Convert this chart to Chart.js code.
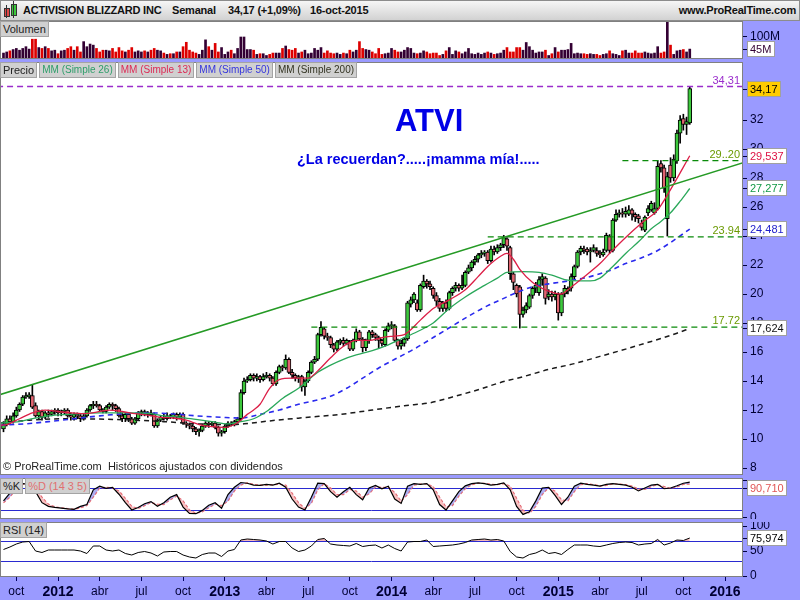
<!DOCTYPE html>
<html>
<head>
<meta charset="utf-8">
<script src="https://cdn.jsdelivr.net/npm/chart.js@4.4.1/dist/chart.umd.min.js"></script>
<style>
html,body{margin:0;padding:0}
body{width:800px;height:600px;position:relative;overflow:hidden;background:#9a9aff;font-family:"Liberation Sans",Arial,sans-serif;color:#111}
canvas{position:absolute;left:0}
#title{position:absolute;left:0;top:0;width:798px;height:19px;border:1px solid #8c8c8c;background:linear-gradient(#f6f6f6,#d2d2d2)}
.t{position:absolute;top:3px;font-size:11px;letter-spacing:-0.2px;font-weight:bold;white-space:nowrap;color:#111}
.row{position:absolute;left:0;display:flex;gap:2px}
.lb{height:14px;line-height:14px;font-size:10px;background:#d0d0d0;border:1px solid #a4a4a4;padding:0 2px;white-space:nowrap}
.free{position:absolute;white-space:nowrap}
</style>
</head>
<body>
<canvas id="cVol" width="800" height="38" style="top:21px"></canvas>
<canvas id="cPrice" width="800" height="413" style="top:62px"></canvas>
<canvas id="cStoch" width="800" height="41" style="top:478px"></canvas>
<canvas id="cRsi" width="800" height="78" style="top:522px"></canvas>

<div id="title">
  <div style="position:absolute;left:3px;top:7px;width:4px;height:7px;background:#e04848;border:1px solid #333"></div>
  <div style="position:absolute;left:4.5px;top:4px;width:1px;height:13px;background:#333"></div>
  <div style="position:absolute;left:10px;top:3px;width:4px;height:10px;background:#3cc83c;border:1px solid #333"></div>
  <div style="position:absolute;left:11.5px;top:0px;width:1px;height:17px;background:#333"></div>
  <span class="t" style="left:22px">ACTIVISION BLIZZARD INC</span>
  <span class="t" style="left:171px">Semanal</span>
  <span class="t" style="left:227px">34,17 (+1,09%)</span>
  <span class="t" style="left:309px">16-oct-2015</span>
  <span class="t" style="right:3px">www.ProRealTime.com</span>
</div>

<div class="row" style="top:21px"><div class="lb" style="color:#222;font-size:11px">Volumen</div></div>
<div class="row" style="top:62px">
  <div class="lb" style="color:#222;font-size:11px">Precio</div>
  <div class="lb" style="color:#2e9e6a">MM (Simple 26)</div>
  <div class="lb" style="color:#dd2a55">MM (Simple 13)</div>
  <div class="lb" style="color:#3434dd">MM (Simple 50)</div>
  <div class="lb" style="color:#333322">MM (Simple 200)</div>
</div>
<div class="row" style="top:478px">
  <div class="lb" style="color:#222;font-size:11px">%K</div>
  <div class="lb" style="color:#e07070;font-size:11px">%D (14 3 5)</div>
</div>
<div class="row" style="top:522px"><div class="lb" style="color:#222;font-size:11px">RSI (14)</div></div>

<div class="free" style="left:395px;top:103px;font-size:31px;font-weight:bold;color:#0000e6">ATVI</div>
<div class="free" style="left:297px;top:151px;font-size:14.5px;font-weight:bold;color:#0000e6">¿La recuerdan?.....¡mamma mía!.....</div>
<div class="free" style="left:3px;top:460px;font-size:11px;color:#222">© ProRealTime.com&nbsp; Históricos ajustados con dividendos</div>

<script>
// ---------------- DATA ----------------
const startDate = '2011-09-09'; // first weekly candle (Friday)

const opens = [
10.7,11.0,11.4,11.2,11.6,12.0,12.4,12.9,12.9,13.0,
12.3,11.6,11.9,11.5,11.8,11.7,11.9,12.0,11.8,11.9,
12.0,11.6,11.5,11.7,11.6,11.4,11.6,12.0,12.3,12.4,
12.3,12.0,11.9,12.2,12.4,12.3,12.1,11.6,11.4,11.7,
11.4,11.1,11.4,11.8,11.9,11.7,11.8,11.7,10.9,11.3,
11.5,11.4,11.6,11.5,11.7,11.5,11.7,11.1,11.0,10.9,
10.7,10.5,10.6,10.9,11.1,11.0,11.1,10.8,10.4,10.5,
10.9,11.1,11.0,11.2,11.4,13.2,14.0,14.1,14.4,14.2,
14.3,14.1,14.3,14.4,14.2,13.8,14.6,15.0,14.9,15.5,
14.6,14.4,14.2,14.3,13.6,14.0,14.6,15.3,15.5,17.2,
17.6,17.1,17.0,16.5,16.2,16.7,16.8,16.6,16.7,16.2,
16.8,17.4,16.9,16.3,16.8,17.4,17.2,17.0,16.8,16.5,
17.5,17.8,17.8,16.8,16.4,16.6,16.9,19.3,19.6,19.4,
18.9,20.5,20.9,20.7,20.4,19.9,19.5,19.0,19.4,19.0,
20.1,20.4,20.6,20.4,20.6,21.5,21.8,22.2,22.4,22.7,
22.8,22.9,22.3,23.1,22.9,23.2,23.4,23.8,23.2,21.4,
20.6,20.5,18.6,18.9,19.1,19.9,20.4,20.1,21.0,21.1,
19.8,20.0,19.8,20.0,18.7,20.0,20.2,20.4,21.2,21.9,
22.9,23.1,23.1,22.9,23.0,23.0,22.8,22.7,23.0,24.0,
23.0,25.1,25.5,25.6,25.5,25.5,25.8,25.5,25.4,24.9,
24.4,25.6,25.8,25.6,25.9,29.0,28.7,25.2,28.9,28.0,
29.2,31.1,32.1,31.7,31.8];

const highs = [
11.2,11.6,11.6,11.8,12.2,12.5,13.0,13.2,13.2,13.75,
12.5,12.0,12.0,11.9,12.0,12.0,12.1,12.1,12.0,12.1,
12.1,11.8,11.8,11.8,11.7,11.7,12.1,12.4,12.6,12.6,
12.4,12.1,12.3,12.5,12.5,12.4,12.2,11.8,11.8,11.8,
11.5,11.5,11.9,12.0,12.0,11.9,12.0,11.8,11.4,11.6,
11.7,11.8,11.7,11.8,11.8,11.8,11.8,11.2,11.1,11.0,
10.8,10.7,11.0,11.2,11.2,11.2,11.2,10.9,10.6,11.0,
11.2,11.2,11.3,11.5,13.4,14.2,14.3,14.5,14.5,14.5,
14.4,14.5,14.6,14.5,14.3,14.7,15.1,15.1,15.8,15.6,
14.8,14.5,14.4,14.4,14.1,14.7,15.4,15.7,17.3,18.1,
17.7,17.3,17.1,16.6,16.8,16.9,17.0,16.9,16.8,16.9,
17.6,17.5,17.0,16.9,17.5,17.5,17.3,17.1,16.9,17.6,
18.0,18.1,17.9,16.9,16.8,17.0,19.5,19.8,20.1,19.6,
20.7,21.3,21.0,20.9,20.5,20.1,19.7,19.5,19.6,20.2,
20.5,20.8,20.7,21.3,21.6,22.0,22.3,22.6,22.8,23.0,
23.0,23.0,23.3,23.3,23.4,23.5,24.05,23.9,23.3,21.5,
20.7,20.6,19.1,19.4,20.0,20.5,20.8,21.2,21.4,21.2,
20.3,20.2,20.2,20.1,20.1,20.6,20.5,21.4,22.0,23.0,
23.3,23.3,23.2,23.2,23.4,23.2,23.0,23.1,24.2,24.1,
25.2,25.8,25.8,25.9,26.0,26.1,25.9,25.6,25.5,25.1,
25.4,26.1,26.4,26.3,29.2,29.2,28.9,28.4,29.4,29.6,
31.3,32.3,32.4,32.2,34.31];

const lows = [
10.5,10.9,11.0,11.1,11.5,11.9,12.3,12.8,12.8,12.1,
11.5,11.4,11.3,11.4,11.5,11.6,11.7,11.6,11.6,11.7,
11.5,11.3,11.3,11.4,11.2,11.3,11.5,11.9,12.1,12.2,
11.9,11.8,11.8,12.1,12.0,11.9,11.5,11.2,11.2,11.2,
11.0,11.0,11.3,11.6,11.6,11.5,11.6,10.8,10.8,11.2,
11.3,11.3,11.4,11.4,11.3,11.4,11.0,10.8,10.7,10.5,
10.3,10.2,10.5,10.8,10.8,10.9,10.7,10.2,10.2,10.4,
10.8,10.9,10.9,11.1,11.3,13.1,13.9,14.0,14.0,14.0,
13.9,14.0,14.2,14.0,13.7,13.7,14.5,14.7,14.8,14.5,
14.2,14.0,13.9,13.3,13.0,13.9,14.5,15.2,15.4,17.1,
16.9,16.8,16.3,16.0,16.1,16.5,16.4,16.5,16.1,16.1,
16.7,16.8,16.0,16.1,16.6,17.0,16.8,16.3,16.4,16.4,
17.4,17.6,16.7,16.2,16.2,16.4,16.8,19.1,19.4,18.8,
18.8,20.4,20.4,20.3,19.7,19.2,18.8,18.8,18.8,18.9,
19.9,20.2,20.2,20.3,20.5,21.4,21.6,22.0,22.2,22.5,
22.6,22.1,22.2,22.7,22.8,23.0,23.2,23.0,21.0,20.3,
19.8,17.65,18.4,18.7,19.0,19.7,20.1,19.9,20.6,19.3,
19.6,19.5,19.6,18.2,18.5,19.8,20.0,20.2,21.0,21.8,
22.7,22.8,22.7,22.2,22.9,22.6,22.5,22.6,22.9,22.8,
22.9,25.0,25.3,25.3,25.3,25.4,25.1,25.0,24.9,24.4,
24.3,25.4,25.7,25.5,25.8,28.4,27.0,24.0,27.7,27.8,
29.0,30.4,31.3,31.0,31.7];

const closes = [
11.0,11.4,11.2,11.6,12.0,12.4,12.9,13.0,13.05,12.2,
11.6,11.9,11.5,11.8,11.7,11.9,12.0,11.8,11.9,12.0,
11.6,11.5,11.7,11.6,11.4,11.6,12.0,12.3,12.4,12.3,
12.0,11.9,12.2,12.4,12.3,12.1,11.6,11.4,11.7,11.4,
11.1,11.4,11.8,11.9,11.7,11.8,11.7,10.9,11.3,11.5,
11.4,11.6,11.5,11.7,11.5,11.7,11.1,11.0,10.9,10.7,
10.5,10.6,10.9,11.1,11.0,11.1,10.8,10.4,10.5,10.9,
11.1,11.0,11.2,11.4,13.2,14.0,14.1,14.4,14.2,14.3,
14.1,14.3,14.4,14.2,13.8,14.6,15.0,14.9,15.5,14.6,
14.4,14.2,14.3,13.6,14.0,14.6,15.3,15.5,17.2,17.7,
17.1,17.0,16.5,16.2,16.7,16.8,16.6,16.8,16.2,16.8,
17.4,16.9,16.3,16.8,17.4,17.2,17.0,16.8,16.6,17.5,
17.8,17.9,16.8,16.4,16.6,16.9,19.4,19.6,20.0,18.9,
20.6,20.9,20.7,20.5,19.9,19.5,19.0,19.4,19.0,20.1,
20.4,20.6,20.4,20.6,21.5,21.8,22.2,22.4,22.7,22.8,
22.9,22.3,23.1,22.9,23.2,23.4,23.9,23.3,21.4,20.8,
20.0,18.6,18.9,19.2,19.9,20.4,20.6,21.0,21.2,19.7,
20.0,19.8,20.0,18.7,20.0,20.4,20.4,21.2,21.9,22.9,
23.15,23.0,22.9,23.0,23.2,22.8,22.7,22.9,24.05,23.0,
25.1,25.5,25.6,25.5,25.7,25.8,25.5,25.3,25.2,24.6,
25.3,25.9,26.25,25.9,28.8,28.7,27.3,28.1,28.0,29.3,
31.1,32.0,31.7,31.9,34.17];

// weekly volume, millions
const volumes = [
27,32,37,43,48,40,48,56,45,90,
90,52,48,56,48,37,40,24,37,40,
48,56,40,56,32,79,56,68,63,48,
32,40,40,37,48,32,52,37,32,40,
52,32,37,32,37,32,40,48,40,37,
27,21,24,24,32,32,56,76,40,32,
27,21,40,87,56,40,71,32,52,21,
32,40,24,48,100,100,43,43,40,21,
24,24,16,21,27,27,27,48,59,43,
40,48,27,32,40,24,27,48,40,52,
27,37,27,24,27,21,27,24,40,32,
40,79,48,43,40,32,24,48,21,24,
27,48,40,32,32,40,52,48,27,24,
27,37,32,24,27,27,16,21,37,52,
21,37,32,24,32,48,24,21,27,21,
27,32,27,21,24,27,40,52,32,32,
52,52,40,75,56,40,27,32,32,40,
16,24,52,32,40,40,43,71,24,27,
24,24,21,24,21,21,16,21,24,37,
24,21,16,37,40,27,27,37,27,27,
32,27,24,27,56,27,32,170,63,21,
37,40,43,32,45];

// moving averages: [week index, value]
const ma13 = [[-1,10.95],[1,11.0],[5,11.4],[9,11.8],[13,12.0],[17,11.9],[21,11.8],[25,11.75],[29,11.85],[33,12.0],[37,11.9],[41,11.75],[45,11.65],[49,11.5],[53,11.45],[57,11.3],[61,11.0],[65,10.85],[69,10.8],[72,11.0],[74,11.3],[76,11.7],[78,12.0],[80,12.4],[83,13.5],[86,14.1],[90,14.2],[95,14.2],[98,14.7],[102,15.6],[106,16.4],[110,16.8],[114,16.8],[118,17.0],[122,17.1],[125,17.2],[130,18.2],[134,19.0],[139,19.6],[144,20.3],[148,21.2],[151,21.9],[155,22.6],[157,22.8],[159,22.4],[161,21.7],[165,20.8],[170,20.2],[174,20.0],[176,20.3],[180,21.0],[186,22.1],[189,22.8],[194,23.9],[199,24.9],[204,25.8],[208,27.2],[214,29.537]];
const ma26 = [[-1,11.1],[5,11.2],[9,11.4],[14,11.6],[20,11.7],[30,11.8],[40,11.8],[46,11.75],[50,11.6],[55,11.5],[60,11.35],[65,11.2],[70,11.05],[74,11.2],[78,11.4],[82,11.9],[87,12.8],[92,13.5],[98,14.6],[102,15.1],[106,15.5],[110,15.8],[115,16.1],[120,16.5],[124,16.9],[129,17.4],[134,18.0],[139,19.0],[144,19.8],[150,20.6],[154,21.1],[157,21.5],[162,21.55],[167,21.5],[171,21.3],[175,21.0],[179,20.9],[183,20.9],[186,21.1],[190,21.9],[194,22.8],[198,23.6],[202,24.5],[205,25.0],[208,25.6],[211,26.4],[214,27.277]];
const ma50 = [[-1,10.95],[7,11.05],[14,11.2],[22,11.4],[30,11.6],[38,11.75],[46,11.8],[52,11.75],[60,11.6],[68,11.5],[74,11.45],[80,11.7],[86,12.0],[92,12.4],[98,12.7],[102,12.95],[107,13.5],[112,14.2],[117,14.9],[122,15.5],[128,16.2],[134,17.0],[140,17.8],[146,18.6],[151,19.2],[155,19.6],[160,20.1],[165,20.5],[170,20.7],[176,20.9],[181,21.1],[186,21.4],[190,21.7],[194,22.1],[199,22.5],[204,23.0],[209,23.7],[214,24.481]];
const ma200 = [[-1,11.1],[8,11.3],[20,11.4],[35,11.35],[50,11.2],[60,11.05],[70,11.0],[75,11.05],[85,11.3],[95,11.5],[105,11.7],[115,12.0],[125,12.3],[133,12.5],[140,12.9],[148,13.4],[155,13.9],[162,14.3],[170,14.8],[178,15.2],[186,15.7],[194,16.2],[200,16.6],[206,17.0],[210,17.3],[214,17.624]];

const trendLine = [[-2,13.0],[232,29.15]];
const levelValues = [34.31, 29.20, 23.94, 17.72];
const levelStarts = [-2, 193, 151, 96];
const levelEnd = 232;
const levelLabels = ['34,31', '29..20', '23.94', '17.72'];

// oscillators, one value every 2 weeks (week 0,2,4,...,214)
const stochK = [
45,66,92,92,90,70,40,30,27,25,
23,22,30,35,75,85,79,82,63,40,
20,27,37,43,30,40,55,62,28,11,
10,19,33,40,25,62,82,95,93,88,
87,90,88,93,82,50,28,20,55,93,
92,70,55,70,82,62,48,80,87,78,
85,50,38,85,92,90,92,75,35,20,
45,70,86,92,94,92,88,90,94,75,
30,8,15,45,80,82,60,35,55,85,
93,90,88,85,90,92,90,88,82,72,
80,88,90,78,80,86,93,96];
const stochD = [
40,55,78,90,91,80,55,36,29,26,
24,22,26,32,55,80,82,80,72,52,
30,24,32,40,36,35,48,58,45,20,
11,15,26,36,32,44,72,88,94,90,
88,88,89,90,88,66,40,24,38,75,
92,80,62,62,76,72,55,64,83,82,
82,68,44,62,88,91,91,84,55,28,
32,58,78,89,93,93,90,89,92,85,
52,19,11,30,62,81,71,48,45,70,
89,92,89,86,87,91,91,89,85,77,
76,84,89,84,79,83,90,90.71];
const rsi14 = [
53,58,64,68,69,50,47,52,52,52,
52,52,50,45,60,60,52,50,52,45,
42,47,49,46,40,48,49,49,42,38,
36,43,46,46,39,50,53,72,74,73,
72,70,64,69,69,56,49,52,60,73,
75,64,62,61,60,65,59,61,62,56,
62,55,50,68,69,69,72,59,60,61,
62,64,67,72,73,74,72,73,70,49,
38,36,43,46,52,45,47,43,53,62,
62,62,60,59,62,65,67,68,67,62,
64,65,73,62,66,72,71,75.974];

const priceTicks = [8,10,12,14,16,18,20,22,24,26,28,30,32];
const volTicks = [100];
const oscTicks = [0,50,100];
const stochLevels = [80,20];
const rsiLevels = [70,30];
const xTickDates = ['2011-10-07','2012-01-06','2012-04-06','2012-07-06','2012-10-05','2013-01-04','2013-04-05','2013-07-05','2013-10-04','2014-01-03','2014-04-04','2014-07-04','2014-10-03','2015-01-02','2015-04-03','2015-07-03','2015-10-02','2016-01-01'];
const xTickLabels = ['oct','2012','abr','jul','oct','2013','abr','jul','oct','2014','abr','jul','oct','2015','abr','jul','oct','2016'];

// ---------------- CHARTS ----------------
const PURPLE = '#9a9aff';
const FONT = '"Liberation Sans", Arial, sans-serif';
const X_MIN = -1.09, X_MAX = 230.6;
const PRICE_MIN = 7.52, PRICE_MAX = 36.0;
const VOL_MAX = 172.7;
const STOCH_MIN = -4.5, STOCH_MAX = 107.3;
const RSI_MIN = -2, RSI_MAX = 108;

Chart.defaults.font.family = FONT;
Chart.defaults.font.size = 12;
Chart.defaults.color = '#000033';

const WEEK_MS = 7 * 864e5;
const weekOf = d => (Date.parse(d) - Date.parse(startDate)) / WEEK_MS;
const xTickWeeks = xTickDates.map(weekOf);
const comma = (v, n) => v.toFixed(n).replace('.', ',');
const last = a => a[a.length - 1];
const pairs = arr => arr.map(([x, y]) => ({x, y}));
const osc = arr => arr.map((v, k) => ({x: 2 * k, y: v}));

const framePlugin = {
  id: 'frame',
  beforeDraw(c) {
    const {ctx, chartArea: a} = c;
    ctx.save();
    ctx.fillStyle = PURPLE; ctx.fillRect(0, 0, c.width, c.height);
    ctx.fillStyle = '#ffffff'; ctx.fillRect(a.left, a.top, a.right - a.left, a.bottom - a.top);
    ctx.restore();
  },
  beforeDatasetsDraw(c, args, o) {
    if (!o || !o.hLines) return;
    const {ctx, chartArea: a} = c; const ys = c.scales.y;
    ctx.save(); ctx.strokeStyle = '#2a2ad0'; ctx.lineWidth = 1;
    o.hLines.forEach(v => {
      const y = Math.round(ys.getPixelForValue(v)) + 0.5;
      ctx.beginPath(); ctx.moveTo(a.left, y); ctx.lineTo(a.right, y); ctx.stroke();
    });
    ctx.restore();
  },
  afterDraw(c, args, o) {
    const {ctx, chartArea: a} = c; const ys = c.scales.y;
    ctx.save();
    ctx.strokeStyle = '#808080'; ctx.lineWidth = 1;
    ctx.strokeRect(a.left + 0.5, a.top + 0.5, a.right - a.left - 1, a.bottom - a.top - 1);
    ctx.font = '11px ' + FONT; ctx.textBaseline = 'middle';
    ((o && o.labels) || []).forEach(l => {
      ctx.fillStyle = l.color; ctx.textAlign = 'right';
      ctx.fillText(l.text, a.right - 3, ys.getPixelForValue(l.value) - 6);
    });
    ((o && o.boxes) || []).forEach(b => {
      let y = Math.round(ys.getPixelForValue(b.value));
      y = Math.max(y, a.top + 10);
      const w = Math.ceil(ctx.measureText(b.text).width) + 6; const x0 = a.right + 4;
      ctx.strokeStyle = '#000040'; ctx.beginPath(); ctx.moveTo(a.right, y + 0.5); ctx.lineTo(x0, y + 0.5); ctx.stroke();
      ctx.fillStyle = b.bg || '#ffffff'; ctx.fillRect(x0, y - 8, w, 16);
      ctx.strokeStyle = '#a0a0a0'; ctx.strokeRect(x0 + 0.5, y - 7.5, w - 1, 15);
      ctx.fillStyle = b.color; ctx.textAlign = 'left'; ctx.fillText(b.text, x0 + 3, y + 0.5);
    });
    ctx.restore();
  }
};
Chart.register(framePlugin);

function yAxis(min, max, ticks, fmt) {
  return {
    position: 'right', min, max,
    afterBuildTicks: s => { s.ticks = ticks.map(v => ({value: v})); },
    afterFit: s => { s.width = 57; s.paddingTop = 0; s.paddingBottom = 0; },
    grid: {drawOnChartArea: false, drawTicks: true, tickLength: 4, color: '#000040', lineWidth: 1},
    border: {display: false},
    ticks: {padding: 3, color: '#000033', font: {size: 12}, callback: fmt}
  };
}
function xAxis(show) {
  const base = {type: 'linear', min: X_MIN, max: X_MAX, offset: false};
  if (!show) return Object.assign(base, {display: false});
  return Object.assign(base, {
    position: 'bottom',
    afterBuildTicks: s => { s.ticks = xTickWeeks.map(v => ({value: v})); },
    afterFit: s => { s.height = 23; s.paddingLeft = 0; s.paddingRight = 0; },
    grid: {drawOnChartArea: false, drawTicks: true, tickLength: 4, color: '#000060', offset: false},
    border: {display: false},
    ticks: {
      autoSkip: false, maxRotation: 0, padding: 3, color: '#000033',
      callback: (v, i) => xTickLabels[i],
      font: ctx => /^\d{4}$/.test(xTickLabels[ctx.index] || '') ? {size: 14, weight: 'bold'} : {size: 12}
    }
  });
}
function opts(scales, frame) {
  return {
    responsive: false, animation: false, events: [], layout: {padding: 0},
    plugins: {legend: {display: false}, tooltip: {enabled: false}, frame},
    scales
  };
}
function line(data, color, dash, width, order) {
  return {type: 'line', data: pairs(data), borderColor: color, borderDash: dash, borderWidth: width,
    pointRadius: 0, fill: false, cubicInterpolationMode: 'monotone', order};
}

const idx = closes.map((_, i) => i);
const up = idx.map(i => closes[i] >= opens[i]);

// Volume
new Chart(document.getElementById('cVol'), {
  type: 'bar',
  data: {datasets: [{
    data: idx.map(i => ({x: i, y: volumes[i]})),
    backgroundColor: up.map(u => u ? '#330033' : '#dd0000'),
    barThickness: 2, grouped: false
  }]},
  options: opts({x: xAxis(false), y: yAxis(0, VOL_MAX, volTicks, v => v + 'M')},
    {boxes: [{value: last(volumes), text: last(volumes) + 'M', color: '#330033'}]})
});

// Price
const levelDatasets = levelValues.map((v, k) => ({
  type: 'line', data: [{x: levelStarts[k], y: v}, {x: levelEnd, y: v}],
  borderColor: k === 0 ? '#9a2ccc' : '#0a8a0a', borderDash: [6, 4], borderWidth: 1.3,
  pointRadius: 0, fill: false, order: 1
}));
new Chart(document.getElementById('cPrice'), {
  type: 'bar',
  data: {datasets: [
    {type: 'bar', data: idx.map(i => ({x: i, y: [lows[i], highs[i]]})), backgroundColor: '#000000',
      barThickness: 1, grouped: false, order: 10},
    {type: 'bar', data: idx.map(i => ({x: i, y: [opens[i], closes[i]]})),
      backgroundColor: up.map(u => u ? '#3cc83c' : '#e06470'), borderColor: '#000000', borderWidth: 1,
      borderSkipped: false, barThickness: 4, grouped: false, minBarLength: 1, order: 9},
    line(ma200, '#1a1a1a', [5, 4], 1.5, 6),
    line(ma50, '#2a2aee', [5, 4], 1.6, 5),
    line(ma26, '#2aa85a', [], 1.3, 4),
    line(ma13, '#dc1e46', [], 1.3, 3),
    line(trendLine, '#259a25', [], 1.5, 2),
    ...levelDatasets
  ]},
  options: opts({x: xAxis(false), y: yAxis(PRICE_MIN, PRICE_MAX, priceTicks, v => String(v))}, {
    labels: levelValues.map((v, k) => ({value: v, text: levelLabels[k], color: k === 0 ? '#9a2ccc' : '#6a9a00'})),
    boxes: [
      {value: last(closes), text: comma(last(closes), 2), color: '#000000', bg: '#ffcc00'},
      {value: last(ma13)[1], text: comma(last(ma13)[1], 3), color: '#dd1144'},
      {value: last(ma26)[1], text: comma(last(ma26)[1], 3), color: '#119944'},
      {value: last(ma50)[1], text: comma(last(ma50)[1], 3), color: '#2222cc'},
      {value: last(ma200)[1], text: comma(last(ma200)[1], 3), color: '#111111'}
    ]
  })
});

// Stochastic
new Chart(document.getElementById('cStoch'), {
  type: 'line',
  data: {datasets: [
    {data: osc(stochK), borderColor: '#000000', borderWidth: 1.2, pointRadius: 0,
      fill: {target: 1, above: 'rgba(110,110,230,0.55)', below: 'rgba(245,140,140,0.55)'}, order: 1},
    {data: osc(stochD), borderColor: '#ee6a6a', borderDash: [3, 2], borderWidth: 1.2, pointRadius: 0, fill: false, order: 2}
  ]},
  options: opts({x: xAxis(false), y: yAxis(STOCH_MIN, STOCH_MAX, oscTicks, v => v === 100 ? '' : String(v))},
    {hLines: stochLevels, boxes: [{value: last(stochD), text: comma(last(stochD), 3), color: '#e05555'}]})
});

// RSI
new Chart(document.getElementById('cRsi'), {
  type: 'line',
  data: {datasets: [
    {data: osc(rsi14), borderColor: '#000000', borderWidth: 1, pointRadius: 0,
      fill: {target: {value: 70}, above: 'rgba(240,140,140,0.6)', below: 'rgba(0,0,0,0)'}}
  ]},
  options: opts({x: xAxis(true), y: yAxis(RSI_MIN, RSI_MAX, oscTicks, v => String(v))},
    {hLines: rsiLevels, boxes: [{value: last(rsi14), text: comma(last(rsi14), 3), color: '#000000'}]})
});
</script>
</body>
</html>
